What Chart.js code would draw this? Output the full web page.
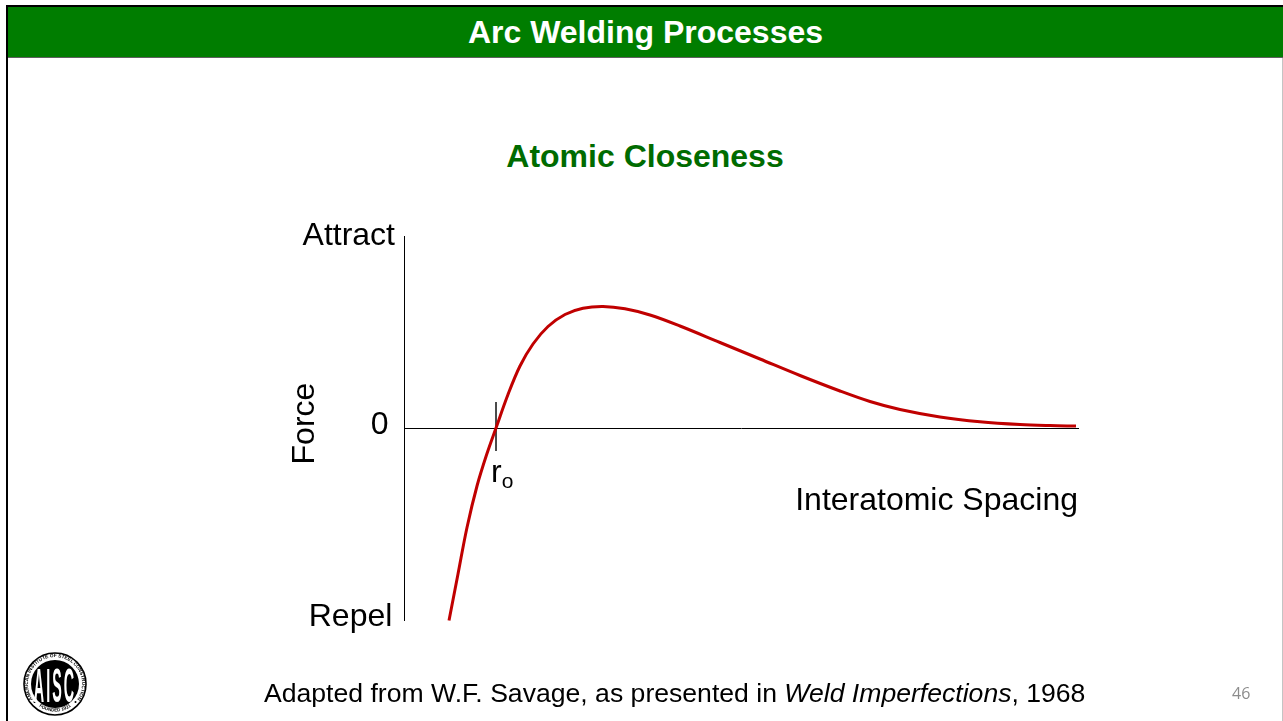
<!DOCTYPE html>
<html>
<head>
<meta charset="utf-8">
<title>Arc Welding Processes</title>
<script src="https://cdn.jsdelivr.net/npm/chart.js@4"></script>
<style>
html, body { margin: 0; padding: 0; background: #fff; overflow: hidden; }
body { width: 1283px; height: 721px; position: relative; font-family: "Liberation Sans", Arial, sans-serif; }
#frameTop { position: absolute; left: 6px; top: 5px; right: 0; height: 2px; background: #000; }
#frameLeft { position: absolute; left: 6px; top: 5px; width: 2px; bottom: 0; background: #000; }
#frameRight { position: absolute; left: 1282px; top: 58px; width: 1px; bottom: 0; background: #c4c4c4; }
#header { position: absolute; left: 8px; top: 7px; right: 0; height: 50px; line-height: 50px; background: #007d00;
  border-bottom: 1px solid #5f5f5f; color: #fff; font-weight: bold; font-size: 32px; text-align: center; }
#subtitle { position: absolute; left: 0; width: 1290px; top: 137px; text-align: center; color: #006b00; font-weight: bold; font-size: 32px; line-height: 38px; }
#source { position: absolute; left: 264px; top: 677px; font-size: 26.6px; line-height: 32px; color: #000; white-space: nowrap; }
#pageNum { position: absolute; left: 1232px; top: 683px; font-family: "Open Sans", sans-serif; font-size: 16px; line-height: 20px; color: #8c8c8c; }
#roLabel { position: absolute; left: 491px; top: 453px; font-size: 32px; line-height: 36px; color: #000; }
#roLabel sub { font-size: 21px; vertical-align: -6px; line-height: 0; }
#plot { position: absolute; left: 0; top: 0; }
#logo { position: absolute; left: 20px; top: 649px; filter: blur(0.4px); }
</style>
</head>
<body>
<div id="frameTop"></div>
<div id="frameLeft"></div>
<div id="frameRight"></div>
<div id="header">Arc Welding Processes</div>
<div id="subtitle">Atomic Closeness</div>
<canvas id="plot" width="1283" height="721"></canvas>
<div id="roLabel">r<sub>o</sub></div>
<div id="source">Adapted from W.F. Savage, as presented in <i>Weld Imperfections</i>, 1968</div>
<div id="pageNum">46</div>
<svg id="logo" width="70" height="70" viewBox="0 0 70 70">
  <defs>
    <path id="arcTop" d="M 15.9 54.1 A 27 27 0 1 1 54.1 54.1"></path>
    <path id="arcBottom" d="M 7.5 35 A 27.5 27.5 0 0 0 62.5 35"></path>
  </defs>
  <circle cx="35" cy="35" r="31" fill="#fff" stroke="#000" stroke-width="1.6"></circle>
  <circle cx="35" cy="35" r="24" fill="#000"></circle>
  <text font-family="Liberation Sans" font-weight="bold" font-size="4.8" fill="#000">
    <textPath href="#arcTop" startOffset="50%" text-anchor="middle">AMERICAN INSTITUTE OF STEEL CONSTRUCTION</textPath>
  </text>
  <text font-family="Liberation Sans" font-weight="bold" font-size="4.6" fill="#000">
    <textPath href="#arcBottom" startOffset="50%" text-anchor="middle">FOUNDED 1921</textPath>
  </text>
  <circle cx="14.5" cy="53" r="1" fill="#000"></circle>
  <circle cx="55.5" cy="53" r="1" fill="#000"></circle>
  <text transform="translate(35 52.5) scale(0.42 1.42)" text-anchor="middle" font-family="Liberation Sans" font-weight="bold" font-size="34" letter-spacing="5" fill="#fff">AISC</text>
</svg>

<script>
// values
const spacing = [0.45, 0.54, 0.63, 0.73, 0.83, 0.92, 1.04, 1.16, 1.29, 1.44, 1.61, 1.79, 1.99, 2.21, 2.46, 2.76, 3.16, 3.56, 3.96, 4.36, 4.66, 4.96, 5.36, 5.76, 6.16, 6.46, 6.72];
const force = [-1.925, -1.46, -0.995, -0.58, -0.255, 0, 0.335, 0.62, 0.84, 1.015, 1.135, 1.197, 1.215, 1.192, 1.13, 1.02, 0.855, 0.69, 0.525, 0.37, 0.265, 0.185, 0.11, 0.062, 0.034, 0.024, 0.02];

// short vertical mark at r0
const roSpacing = [0.92, 0.92];
const roForce = [0.26, -0.23];

const forceTicks = [-1.92, 0, 1.89];
const forceTickLabels = ['Repel\u200A', '0\u2009', 'Attract'];

const toPoints = (xs, ys) => xs.map((x, i) => ({ x: x, y: ys[i] }));

const chartCtx = document.getElementById('plot').getContext('2d');

new Chart(chartCtx, {
    type: 'line',
    data: {
        datasets: [{
            label: 'Force',
            data: toPoints(spacing, force),
            borderColor: '#c00000',
            borderWidth: 3,
            pointRadius: 0,
            tension: 0.35,
            clip: false
        }, {
            label: 'ro',
            data: toPoints(roSpacing, roForce),
            borderColor: '#333333',
            borderWidth: 1,
            pointRadius: 0
        }]
    },
    options: {
        responsive: false,
        animation: false,
        layout: { padding: { left: 284, right: 205, top: 236, bottom: 101 } },
        plugins: { legend: { display: false }, tooltip: { enabled: false } },
        scales: {
            x: {
                type: 'linear',
                position: { y: 0 },
                min: 0,
                max: 6.74,
                grid: { display: false },
                border: { display: true, color: '#000', width: 1 },
                ticks: { display: false },
                title: {
                    display: true,
                    text: 'Interatomic Spacing',
                    align: 'end',
                    color: '#000',
                    font: { family: 'Liberation Sans', size: 32 },
                    padding: { top: 46, bottom: 0 }
                }
            },
            y: {
                type: 'linear',
                position: 'left',
                min: -1.92,
                max: 1.92,
                afterFit: (axis) => { axis.width = 120; },
                afterBuildTicks: (axis) => { axis.ticks = forceTicks.map(v => ({ value: v })); },
                grid: { display: false, drawTicks: false },
                border: { display: true, color: '#000', width: 1 },
                ticks: {
                    color: '#000',
                    padding: 9,
                    labelOffset: -3,
                    autoSkip: false,
                    font: { family: 'Liberation Sans', size: 32 },
                    callback: (value, index) => forceTickLabels[index]
                },
                title: {
                    display: true,
                    text: ' Force',
                    color: '#000',
                    font: { family: 'Liberation Sans', size: 32 },
                    padding: { top: 2, bottom: 0 }
                }
            }
        }
    }
});
</script>
</body>
</html>
